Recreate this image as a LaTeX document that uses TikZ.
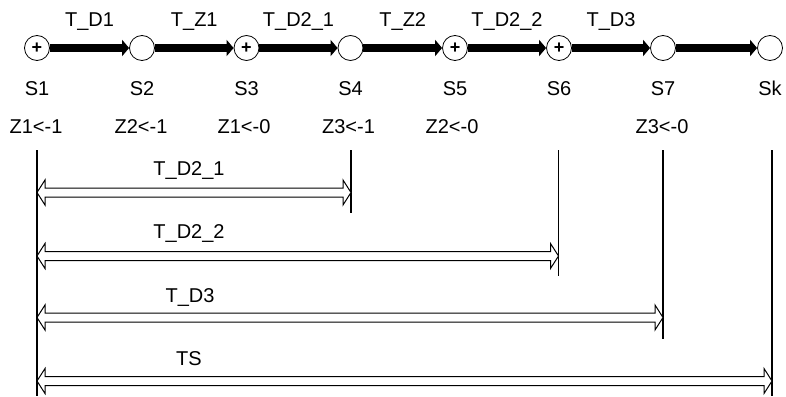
\documentclass[tikz,border=0pt]{standalone}
\usepackage{fontspec}
\setmainfont{Liberation Sans}
\usetikzlibrary{arrows.meta,calc}
\newcommand\dblarrow[2]{%
  \draw[hollow] (#1) -- ($(#1)+(8,-12.5)$) -- ($(#1)+(8,-4.5)$) -- ($(#2)+(-8,-4.5)$)
    -- ($(#2)+(-8,-12.5)$) -- (#2) -- ($(#2)+(-8,12.5)$) -- ($(#2)+(-8,4.5)$)
    -- ($(#1)+(8,4.5)$) -- ($(#1)+(8,12.5)$) -- cycle;}
\begin{document}
\begin{tikzpicture}[x=1pt,y=-1pt,
  state/.style={circle, draw, line width=0.8pt, minimum size=25pt, inner sep=0pt, fill=white,
    font=\fontsize{18}{18}\selectfont\bfseries},
  flow/.style={line width=8pt, -{Triangle[length=7pt,width=16pt]}},
  lbl/.style={font=\fontsize{20}{24}\selectfont, anchor=base, inner sep=0pt},
  vline/.style={line width=1.5pt},
  hollow/.style={draw=black, line width=1pt, fill=white, line join=miter},
]
\useasboundingbox (0,0) rectangle (786,396);
% states
\node[state] (s1) at (37,48) {+};
\node[state] (s2) at (142,48) {};
\node[state] (s3) at (246.5,48) {+};
\node[state] (s4) at (350.5,48) {};
\node[state] (s5) at (455,48) {+};
\node[state] (s6) at (559,48) {+};
\node[state] (s7) at (663,48) {};
\node[state] (sk) at (770,48) {};
% flows
\draw[flow] (s1) -- (s2) node[lbl, midway, yshift=21pt] (f1) {T\_D1};
\draw[flow] (s2) -- (s3) node[lbl, midway, yshift=21pt] (f2) {T\_Z1};
\draw[flow] (s3) -- (s4) node[lbl, midway, yshift=21pt] (f3) {T\_D2\_1};
\draw[flow] (s4) -- (s5) node[lbl, midway, yshift=21pt] (f4) {T\_Z2};
\draw[flow] (s5) -- (s6) node[lbl, midway, yshift=21pt] (f5) {T\_D2\_2};
\draw[flow] (s6) -- (s7) node[lbl, midway, yshift=21pt] (f6) {T\_D3};
\draw[flow] (s7) -- (sk);
% state names
\node[lbl] (n1) at (37,95) {S1};
\node[lbl] (n2) at (142,95) {S2};
\node[lbl] (n3) at (246.5,95) {S3};
\node[lbl] (n4) at (350.5,95) {S4};
\node[lbl] (n5) at (455,95) {S5};
\node[lbl] (n6) at (559,95) {S6};
\node[lbl] (n7) at (663,95) {S7};
\node[lbl] (nk) at (770,95) {Sk};
% assignments
\node[lbl] (z1) at (36,133) {Z1<-1};
\node[lbl] (z2) at (141,133) {Z2<-1};
\node[lbl] (z3) at (244,133) {Z1<-0};
\node[lbl] (z4) at (348.5,133) {Z3<-1};
\node[lbl] (z5) at (452,133) {Z2<-0};
\node[lbl] (z7) at (662,133) {Z3<-0};
% vertical lines
\coordinate (t0) at (37,150);  \coordinate (b0) at (37,396);
\coordinate (t1) at (351,150); \coordinate (b1) at (351,213);
\coordinate (t2) at (558.5,150); \coordinate (b2) at (558.5,276);
\coordinate (t3) at (663,150); \coordinate (b3) at (663,339);
\coordinate (t4) at (772,150); \coordinate (b4) at (772,396);
\draw[vline] (t0) -- (b0);
\draw[vline] (t1) -- (b1);
\draw[vline] (t2) -- (b2);
\draw[vline] (t3) -- (b3);
\draw[vline] (t4) -- (b4);
% duration arrows
\coordinate (a1l) at (37,192.5); \coordinate (a1r) at (351,192.5);
\coordinate (a2l) at (37,256);   \coordinate (a2r) at (558.5,256);
\coordinate (a3l) at (37,317.5); \coordinate (a3r) at (663,317.5);
\coordinate (a4l) at (37,381);   \coordinate (a4r) at (772,381);
\dblarrow{a1l}{a1r}
\dblarrow{a2l}{a2r}
\dblarrow{a3l}{a3r}
\dblarrow{a4l}{a4r}
\node[lbl] (d1) at (189,175) {T\_D2\_1};
\node[lbl] (d2) at (189,238) {T\_D2\_2};
\node[lbl] (d3) at (190,302) {T\_D3};
\node[lbl] (d4) at (189,365) {TS};
\end{tikzpicture}
\end{document}
